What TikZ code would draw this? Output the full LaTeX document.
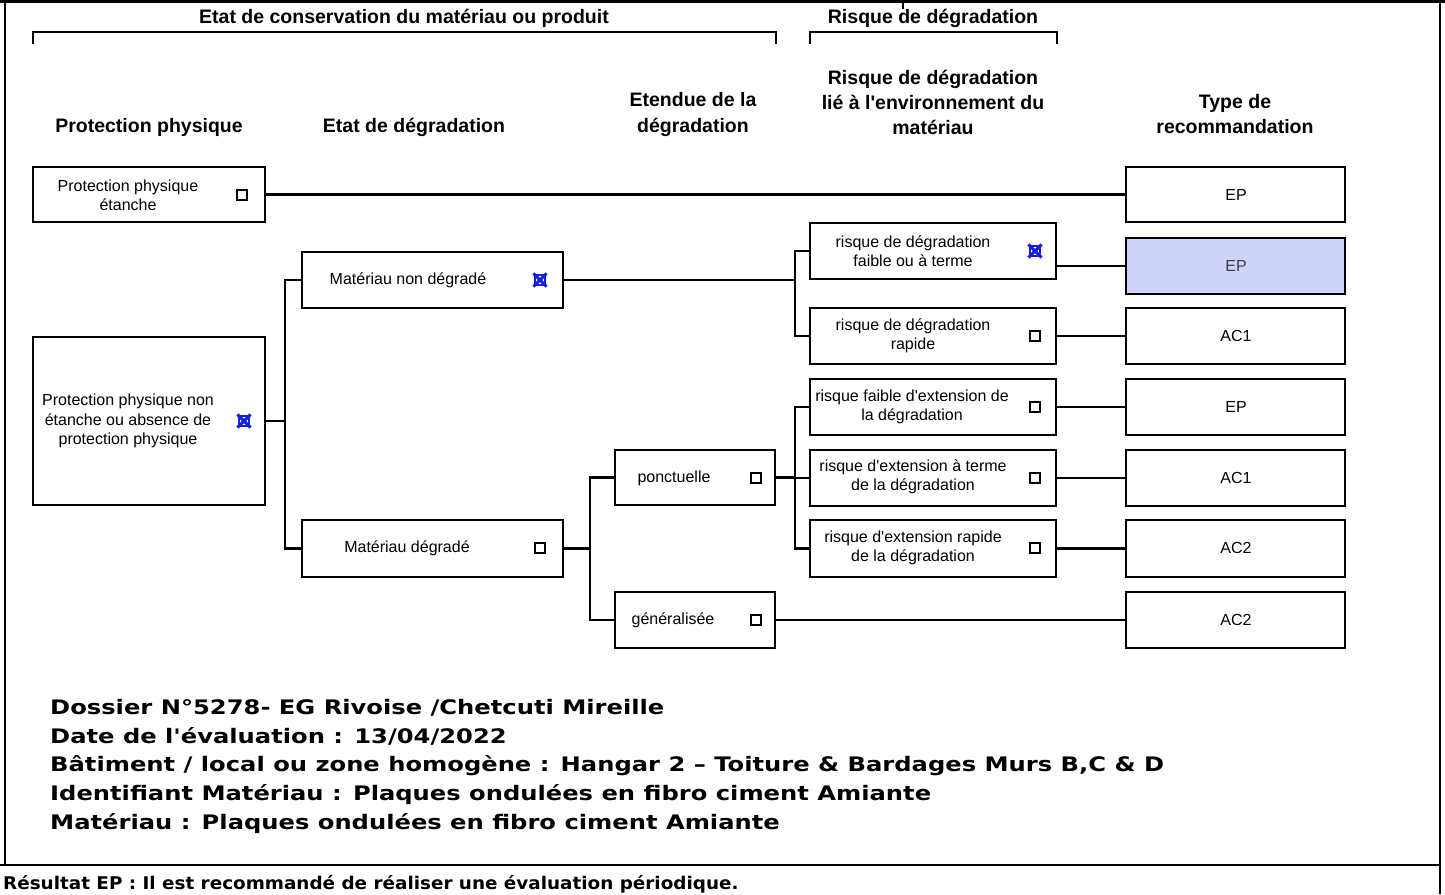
\documentclass[tikz,border=0pt]{standalone}
\usepackage{fontspec}
\newfontfamily\arial{Liberation Sans}
\newfontfamily\verd[FakeStretch=1.21]{DejaVu Sans}
\newfontfamily\verdb[FakeStretch=1.05]{DejaVu Sans}
\definecolor{selfill}{RGB}{208,212,250}
\definecolor{xblue}{RGB}{20,30,220}
\begin{document}
\begin{tikzpicture}[x=1pt,y=-1pt,
  box/.style={draw, line width=2.6pt, rectangle, inner sep=0pt},
  conn/.style={line width=2.1pt},
  frame/.style={line width=2.6pt},
  cb/.style={draw, line width=1.1pt, rectangle, minimum size=10pt, inner sep=0pt},
  cbx/.style={cb, draw=xblue},
  lbl/.style={font=\fontsize{16}{19.5}\selectfont\arial, align=center, inner sep=0pt},
  hdr/.style={font=\fontsize{19.5}{25}\selectfont\arial\bfseries, align=center, inner sep=0pt},
  foot/.style={font=\fontsize{20}{22}\selectfont\verd\bfseries, anchor=base west, inner sep=0pt},
  footb/.style={font=\fontsize{17.5}{22}\selectfont\verdb\bfseries, anchor=base west, inner sep=0pt}
]
\useasboundingbox (0,0) rectangle (1445,894);
% frame
\draw[line width=3.4pt] (0,1.5) -- (1445,1.5);
\draw[frame] (5,0) -- (5,865);
\draw[frame] (1440,0) -- (1440,894);
\draw[frame] (0,865) -- (1440,865);
\draw[line width=1.5pt] (903,3) -- (903,9);

% header brackets
\node[hdr] (h1) at (404,18) {Etat de conservation du matériau ou produit};
\node[hdr] (h2) at (933,18) {Risque de dégradation};
\draw[line width=2.2pt] (33,44) -- (33,32) -- (776,32) -- (776,44);
\draw[line width=2.2pt] (810,44) -- (810,32) -- (1057,32) -- (1057,44);

% column headers
\node[hdr] (c1) at (149,127) {Protection physique};
\node[hdr] (c2) at (414,127) {Etat de dégradation};
\node[hdr] (c3) at (693,114.5) {Etendue de la\\dégradation};
\node[hdr] (c4) at (933,102) {Risque de dégradation\\lié à l'environnement du\\matériau};
\node[hdr] (c5) at (1235,114.5) {Type de\\recommandation};

% boxes
\node[box, minimum width=232pt, minimum height=55pt] (ppe) at (149,194.5) {};
\node[box, minimum width=232pt, minimum height=168pt] (ppne) at (149,421) {};
\node[box, minimum width=261pt, minimum height=56pt] (mnd) at (432.5,280) {};
\node[box, minimum width=261pt, minimum height=57pt] (md) at (432.5,548.5) {};
\node[box, minimum width=160pt, minimum height=55pt] (pon) at (695,477.5) {};
\node[box, minimum width=160pt, minimum height=56pt] (gen) at (695,620) {};
\node[box, minimum width=246pt, minimum height=56pt] (r1) at (933,251) {};
\node[box, minimum width=246pt, minimum height=56pt] (r2) at (933,336) {};
\node[box, minimum width=246pt, minimum height=56pt] (r3) at (933,407) {};
\node[box, minimum width=246pt, minimum height=56pt] (r4) at (933,478) {};
\node[box, minimum width=246pt, minimum height=57pt] (r5) at (933,548.5) {};
\node[box, minimum width=219pt, minimum height=55pt] (t1) at (1235.5,194.5) {};
\node[box, minimum width=219pt, minimum height=56pt, fill=selfill] (t2) at (1235.5,266) {};
\node[box, minimum width=219pt, minimum height=56pt] (t3) at (1235.5,336) {};
\node[box, minimum width=219pt, minimum height=56pt] (t4) at (1235.5,407) {};
\node[box, minimum width=219pt, minimum height=56pt] (t5) at (1235.5,478) {};
\node[box, minimum width=219pt, minimum height=57pt] (t6) at (1235.5,548.5) {};
\node[box, minimum width=219pt, minimum height=56pt] (t7) at (1235.5,620) {};

% labels
\node[lbl] (lppe) at (128,195.5) {Protection physique\\étanche};
\node[lbl] (lppne) at (128,421) {Protection physique non\\étanche ou absence de\\protection physique};
\node[lbl] (lmnd) at (408,280) {Matériau non dégradé};
\node[lbl] (lmd) at (407,548) {Matériau dégradé};
\node[lbl] (lpon) at (674,478) {ponctuelle};
\node[lbl] (lgen) at (673,620) {généralisée};
\node[lbl] (lr1) at (913,251) {risque de dégradation\\faible ou à terme};
\node[lbl] (lr2) at (913,336) {risque de dégradation\\rapide};
\node[lbl] (lr3) at (912,407) {risque faible d'extension de\\la dégradation};
\node[lbl] (lr4) at (913,477) {risque d'extension à terme\\de la dégradation};
\node[lbl] (lr5) at (913,548) {risque d'extension rapide\\de la dégradation};
\node[lbl] (lt1) at (1236,195) {EP};
\node[lbl, text=black!75] (lt2) at (1236,266) {EP};
\node[lbl] (lt3) at (1236,336) {AC1};
\node[lbl] (lt4) at (1236,407) {EP};
\node[lbl] (lt5) at (1236,478) {AC1};
\node[lbl] (lt6) at (1236,548) {AC2};
\node[lbl] (lt7) at (1236,620) {AC2};

% checkboxes
\node[cb] (kppe) at (242,195) {};
\node[cbx] (kppne) at (244,421) {};
\node[cbx] (kmnd) at (540,280) {};
\node[cb] (kmd) at (540,548) {};
\node[cb] (kpon) at (756,478) {};
\node[cb] (kgen) at (756,620) {};
\node[cbx] (kr1) at (1035,251) {};
\node[cb] (kr2) at (1035,336) {};
\node[cb] (kr3) at (1035,407) {};
\node[cb] (kr4) at (1035,478) {};
\node[cb] (kr5) at (1035,548) {};
\foreach \k in {kppne,kmnd,kr1}{
  \draw[xblue, line width=3pt] ([shift={(-1,-1)}]\k.north west) -- ([shift={(1,1)}]\k.south east);
  \draw[xblue, line width=3pt] ([shift={(1,-1)}]\k.north east) -- ([shift={(-1,1)}]\k.south west);
}

% connectors
\coordinate (b1) at (285,421);
\coordinate (b2) at (795,280);
\coordinate (b3) at (590,548.5);
\coordinate (b4) at (795,477.5);
\draw[conn] (ppe.east) -- (t1.west);
\draw[conn] (ppne.east) -- (b1);
\draw[conn] (b1) |- (mnd.west);
\draw[conn] (b1) |- (md.west);
\draw[conn] (mnd.east) -- (b2);
\draw[conn] (b2) |- (r1.west);
\draw[conn] (b2) |- (r2.west);
\draw[conn] (md.east) -- (b3);
\draw[conn] (b3) |- (pon.west);
\draw[conn] (b3) |- (gen.west);
\draw[conn] (pon.east) -- (b4);
\draw[conn] (b4) |- (r3.west);
\draw[conn] (b4) |- (r4.west);
\draw[conn] (b4) |- (r5.west);
\draw[conn] (gen.east) -- (t7.west);
\draw[conn] (r1.east |- t2.west) -- (t2.west);
\draw[conn] (r2.east) -- (t3.west);
\draw[conn] (r3.east) -- (t4.west);
\draw[conn] (r4.east) -- (t5.west);
\draw[conn] (r5.east) -- (t6.west);

% footer text
\node[foot] (f1) at (50,714) {Dossier N°5278- EG Rivoise /Chetcuti Mireille};
\node[foot] (f2) at (50,743) {Date de l'évaluation : 13/04/2022};
\node[foot] (f3) at (50,771) {Bâtiment / local ou zone homogène : Hangar 2 – Toiture \& Bardages Murs B,C \& D};
\node[foot] (f4) at (50,800) {Identifiant Matériau : Plaques ondulées en fibro ciment Amiante};
\node[foot] (f5) at (50,829) {Matériau : Plaques ondulées en fibro ciment Amiante};
\node[footb] (f6) at (3,889) {Résultat EP : Il est recommandé de réaliser une évaluation périodique.};
\end{tikzpicture}
\end{document}
